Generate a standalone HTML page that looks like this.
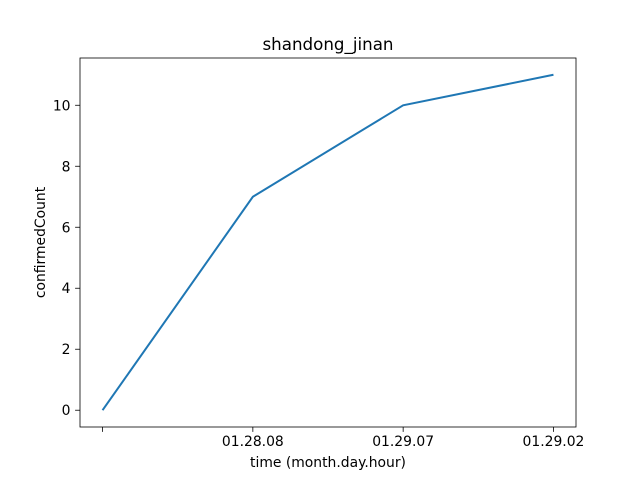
<!DOCTYPE html>
<html><head><meta charset="utf-8"><style>body{margin:0;background:#fff}svg{display:block;font-family:"DejaVu Sans","Liberation Sans",sans-serif}</style></head>
<body>
<svg id="c" width="640" height="480"></svg>
<script>
const categories = ["", "01.28.08", "01.29.07", "01.29.02"];
const confirmedCount = [0, 7, 10, 11];
const yTicks = [0, 2, 4, 6, 8, 10];
const NS="http://www.w3.org/2000/svg";
const svg=document.getElementById('c');
const L=80,R=576,T=58,B=427;
const xmin=-0.15,xmax=categories.length-1+0.15;
const ymin=-0.55,ymax=11.55;
const xs=i=>L+(i-xmin)/(xmax-xmin)*(R-L);
const ys=v=>B-(v-ymin)/(ymax-ymin)*(B-T);
function mk(t,a,txt){const e=document.createElementNS(NS,t);for(const k in a)e.setAttribute(k,a[k]);if(txt!==undefined)e.textContent=txt;svg.appendChild(e);return e;}
let e=mk('rect',{x:L,y:T,width:R-L,height:B-T,fill:'none',stroke:'#000','stroke-width':0.8});


categories.forEach((c,i)=>{const x=xs(i);
 let t=mk('line',{x1:x,x2:x,y1:B,y2:B+4.9,stroke:'#000','stroke-width':0.8});
 
 
 let l=mk('text',{x:x,y:B+19,'text-anchor':'middle','font-size':13.9},c);
 
 });
yTicks.forEach(v=>{const y=ys(v);
 let t=mk('line',{x1:L-4.9,x2:L,y1:y,y2:y,stroke:'#000','stroke-width':0.8});
 
 
 let l=mk('text',{x:L-9.5,y:y+5,'text-anchor':'end','font-size':13.9},v);
 
 });
let p=mk('polyline',{points:confirmedCount.map((v,i)=>xs(i)+','+ys(v)).join(' '),fill:'none',stroke:'#1f77b4','stroke-width':2});


let tt=mk('text',{x:(L+R)/2,y:T-8,'text-anchor':'middle','font-size':16.7},'shandong_jinan');


let xt=mk('text',{x:(L+R)/2,y:467,'text-anchor':'middle','font-size':13.9},'time (month.day.hour)');


let yt=mk('text',{x:45,y:(T+B)/2,'text-anchor':'middle','font-size':13.9,transform:'rotate(-90 45 '+(T+B)/2+')'},'confirmedCount');


</script>
</body></html>
